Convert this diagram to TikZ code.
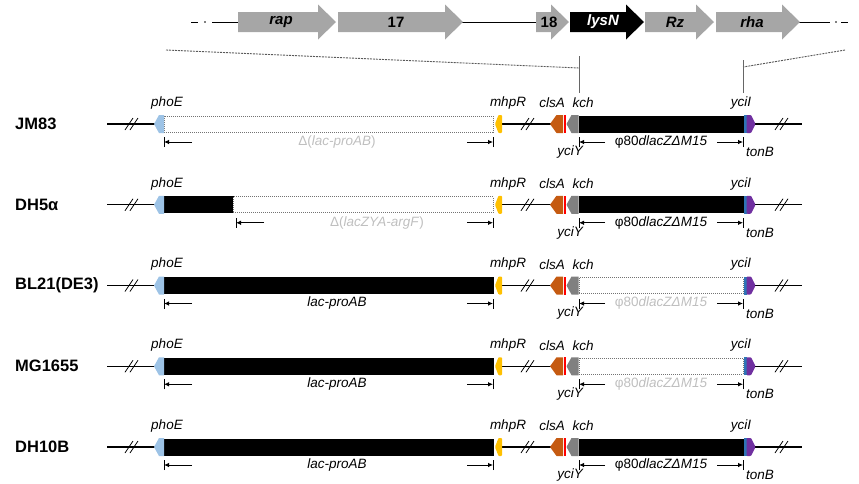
\documentclass[tikz,border=0pt]{standalone}
\usepackage{fontspec}
\setmainfont{Liberation Sans}
\usetikzlibrary{arrows.meta}

\definecolor{phoEc}{HTML}{9DC3E6}
\definecolor{mhpRc}{HTML}{FFC000}
\definecolor{clsAc}{HTML}{C55A11}
\definecolor{yciYc}{HTML}{FF0000}
\definecolor{kchc}{HTML}{808080}
\definecolor{yciIc}{HTML}{2E75B6}
\definecolor{tonBc}{HTML}{7030A0}
\definecolor{delc}{HTML}{BFBFBF}
\definecolor{orfc}{HTML}{A6A6A6}

\tikzset{
  backbone/.style={line width=1.1pt, black},
  brk/.style={line width=0.8pt, black},
  present/.style={fill=black, draw=black, line width=0.6pt},
  deleted/.style={draw=black!55, dash pattern=on 1pt off 1pt, line width=0.7pt, fill=white},
  dimarrow/.style={-{Latex[length=5pt,width=4.5pt]}, line width=0.8pt},
  dimtick/.style={line width=0.6pt},
  glabel/.style={font=\fontsize{13.5}{15}\selectfont\itshape, inner sep=0pt},
  dimlabel/.style={font=\fontsize{13.5}{15}\selectfont, inner sep=0pt},
  strain/.style={font=\fontsize{16.5}{18}\selectfont\bfseries, anchor=west, inner sep=0pt},
  orf/.style={fill=orfc},
  orfdark/.style={fill=black},
  orflabel/.style={font=\fontsize{15}{16}\selectfont\bfseries, inner sep=0pt},
  zoomline/.style={draw=black!65, dash pattern=on 2pt off 1pt, line width=0.9pt},
  zoomtick/.style={draw=black!60, line width=0.8pt},
}

% gene arrow of the phage map: start x, tip x, fill style
\newcommand\orfshape[3]{%
  \path[#3] (#1,12) -- ({#2-18},12) -- ({#2-18},4.5) -- (#2,22)
    -- ({#2-18},39.5) -- ({#2-18},32) -- (#1,32) -- cycle;}

% double slash break on a backbone, centred at x
\newcommand\brkmark[1]{%
  \draw[brk] ({#1-6},6) -- ({#1+2},-6);
  \draw[brk] ({#1-1},6) -- ({#1+7},-6);}

\begin{document}
\begin{tikzpicture}[x=1pt, y=-1pt]
\useasboundingbox (0,0) rectangle (859,483);

% ---------- phage map ----------
\draw[backbone, line width=0.9pt] (191,22) -- (198,22);
\fill (205,22) circle (0.9);
\draw[backbone, line width=0.9pt] (212,22) -- (240,22);
\draw[backbone, line width=0.9pt] (461,22) -- (538,22);
\draw[backbone, line width=0.9pt] (798,22) -- (830,22);
\fill (836,22) circle (0.9);
\draw[backbone, line width=0.9pt] (841,22) -- (848,22);

\orfshape{238}{336}{orf}
\orfshape{338}{463}{orf}
\orfshape{536}{569}{orf}
\orfshape{570}{644}{orfdark}
\orfshape{645}{714}{orf}
\orfshape{716}{800}{orf}
\node[orflabel] (orap)  at (281,22) {\itshape rap};
\node[orflabel] (o17)   at (396,22) {17};
\node[orflabel] (o18)   at (549,22) {18};
\node[orflabel, text=white] (olysN) at (603,22) {\itshape lysN};
\node[orflabel] (oRz)   at (675,22) {\itshape Rz};
\node[orflabel] (orha)  at (752,22) {\itshape rha};

% zoom lines down to the kch .. yciI interval
\coordinate (zl1) at (166,50);
\coordinate (zl2) at (579,68);
\coordinate (zl3) at (579,56);
\coordinate (zl4) at (579,93);
\coordinate (zr1) at (845,50);
\coordinate (zr2) at (743,67);
\coordinate (zr3) at (743,60);
\coordinate (zr4) at (743,93);
\draw[zoomline] (zl1) -- (zl2);
\draw[zoomtick] (zl3) -- (zl4);
\draw[zoomline] (zr1) -- (zr2);
\draw[zoomtick] (zr3) -- (zr4);

% ---------- strain rows ----------
% lac state: 0 deleted, 1 partly deleted, 2 present; phi state: 0 deleted, 1 present
\foreach \i/\yy/\nm/\lac/\phi in {1/124/JM83/0/1, 2/204.75/DH5α/1/1,
    3/285.5/{BL21(DE3)}/2/0, 4/366.25/MG1655/2/0, 5/447/DH10B/2/1} {
  \begin{scope}[shift={(0,\yy)}]
    \node[strain] (s\i) at (15,0) {\nm};

    % backbone and breaks
    \coordinate (b\i a) at (107,0);
    \coordinate (b\i b) at (155,0);
    \coordinate (b\i c) at (501,0);
    \coordinate (b\i d) at (551,0);
    \coordinate (b\i e) at (754,0);
    \coordinate (b\i f) at (802,0);
    \draw[backbone] (b\i a) -- (b\i b);
    \draw[backbone] (b\i c) -- (b\i d);
    \draw[backbone] (b\i e) -- (b\i f);
    \brkmark{131}
    \brkmark{527}
    \brkmark{781}

    % lac region
    \ifnum\lac=0
      \draw[deleted] (164,-8) rectangle (493,8);
    \fi
    \ifnum\lac=1
      \draw[present] (164,-8) rectangle (233,8);
      \draw[deleted] (233,-8) rectangle (493,8);
    \fi
    \ifnum\lac=2
      \draw[present] (164,-8) rectangle (493,8);
    \fi

    % phi80 region
    \ifnum\phi=0
      \draw[deleted] (579,-8) rectangle (743,8);
    \else
      \draw[present] (579,-8) rectangle (743,8);
    \fi

    % flanking genes
    \fill[phoEc] (164,-9) -- (159,-9) -- (154,0) -- (159,9) -- (164,9) -- cycle;
    \fill[mhpRc, rounded corners=0.8pt] (502,-9) -- (498.5,-9) -- (495,0) -- (498.5,9) -- (502,9) -- cycle;
    \fill[clsAc] (563,-9) -- (556.5,-9) -- (550,0) -- (556.5,9) -- (563,9) -- cycle;
    \fill[yciYc] (564,-9) rectangle (565.6,9);
    \fill[kchc] (578.5,-9) -- (571.5,-9) -- (566.5,0) -- (571.5,9) -- (578.5,9) -- cycle;
    \fill[yciIc] (743.6,-9) rectangle (746.6,9);
    \fill[tonBc, rounded corners=0.8pt] (746.6,-9) -- (751,-9) -- (755.5,0) -- (751,9) -- (746.6,9) -- cycle;

    \node[glabel] (phoE\i) at (167,-21) {phoE};
    \node[glabel] (mhpR\i) at (508,-21) {mhpR};
    \node[glabel] (clsA\i) at (552,-21) {clsA};
    \node[glabel] (kch\i)  at (583,-21) {kch};
    \node[glabel] (yciI\i) at (741,-21) {yciI};
    \node[glabel] (yciY\i) at (570,28) {yciY};
    \node[glabel] (tonB\i) at (760,28) {tonB};

    % extent of the lac region
    \ifnum\lac=1
      \coordinate (ll\i) at (236,18);
    \else
      \coordinate (ll\i) at (164,18);
    \fi
    \coordinate (lr\i) at (493,18);
    \draw[dimtick] ([yshift=-5pt]ll\i) -- ([yshift=5pt]ll\i);
    \draw[dimtick] ([yshift=-5pt]lr\i) -- ([yshift=5pt]lr\i);
    \draw[dimarrow] ([xshift=28pt]ll\i) -- (ll\i);
    \draw[dimarrow] ([xshift=-26pt]lr\i) -- (lr\i);
    \ifnum\lac=0
      \node[dimlabel, text=delc] (lac\i) at (337,18) {Δ(\textit{lac-proAB})};
    \fi
    \ifnum\lac=1
      \node[dimlabel, text=delc] (lac\i) at (377,18) {Δ(\textit{lacZYA-argF})};
    \fi
    \ifnum\lac=2
      \node[dimlabel] (lac\i) at (337,18) {\textit{lac-proAB}};
    \fi

    % extent of the phi80 region
    \coordinate (pl\i) at (579,18);
    \coordinate (pr\i) at (743,18);
    \draw[dimtick] ([yshift=-5pt]pl\i) -- ([yshift=5pt]pl\i);
    \draw[dimtick] ([yshift=-5pt]pr\i) -- ([yshift=5pt]pr\i);
    \draw[dimarrow] ([xshift=26pt]pl\i) -- (pl\i);
    \draw[dimarrow] ([xshift=-26pt]pr\i) -- (pr\i);
    \ifnum\phi=0
      \node[dimlabel, text=delc] (phi\i) at (661,18) {φ80\textit{dlacZΔM15}};
    \else
      \node[dimlabel] (phi\i) at (661,18) {φ80\textit{dlacZΔM15}};
    \fi
  \end{scope}
}
\end{tikzpicture}
\end{document}
